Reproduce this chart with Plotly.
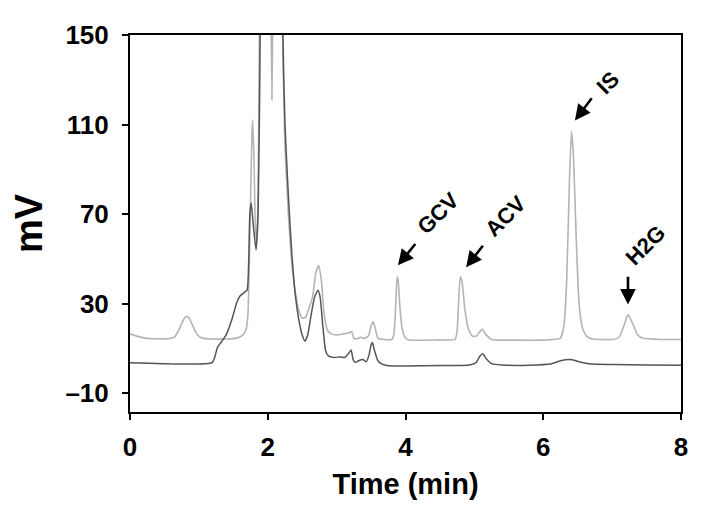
import plotly.graph_objects as go

# Light (upper) trace
light_t = [0.00, 0.10, 0.25, 0.55, 0.65, 0.72, 0.78, 0.82, 0.86, 0.92, 0.98, 1.05, 1.20, 1.40, 1.55, 1.63,
           1.68, 1.71, 1.74, 1.77, 1.78, 1.80, 1.82, 1.84, 1.86, 1.88, 1.92, 2.00, 2.03, 2.06, 2.09, 2.12,
           2.18, 2.21, 2.25, 2.30, 2.35, 2.40, 2.45, 2.50, 2.55, 2.60, 2.65, 2.70, 2.74, 2.78, 2.82, 2.87,
           2.92, 3.00, 3.10, 3.18, 3.22, 3.25, 3.30, 3.35, 3.40, 3.46, 3.50, 3.53, 3.56, 3.60, 3.70, 3.80,
           3.83, 3.85, 3.87, 3.88, 3.895, 3.92, 3.95, 3.99, 4.05, 4.50, 4.72, 4.75, 4.77, 4.795, 4.82, 4.86,
           4.91, 4.97, 5.03, 5.08, 5.12, 5.16, 5.25, 5.60, 6.00, 6.20, 6.25, 6.30, 6.34, 6.38, 6.41, 6.44,
           6.48, 6.52, 6.57, 6.63, 6.70, 7.00, 7.10, 7.17, 7.23, 7.30, 7.37, 7.45, 7.70, 8.00]
light_mv = [16.5, 15.5, 14.5, 14.3, 15.2, 19.0, 23.0, 24.3, 23.5, 19.5, 16.0, 14.6, 14.2, 14.2, 14.6, 15.8,
            18.0, 24.0, 60.0, 105.0, 112.0, 95.0, 65.0, 58.0, 80.0, 160.0, 400.0, 400.0, 220.0, 121.0, 220.0, 400.0,
            400.0, 160.0, 100.0, 70.0, 48.0, 35.0, 27.0, 23.5, 24.0, 28.0, 33.0, 44.0, 47.0, 40.0, 25.0, 18.0,
            16.5, 16.0, 16.5, 17.0, 17.5, 14.5, 14.3, 15.0, 14.5, 15.5, 20.0, 22.0, 19.0, 14.5, 14.0, 14.0,
            16.0, 24.0, 38.0, 42.0, 40.0, 28.0, 19.0, 15.0, 13.8, 13.8, 14.0, 18.0, 30.0, 42.0, 40.0, 28.0,
            19.0, 15.5, 15.5, 17.5, 18.6, 16.5, 14.0, 13.7, 13.7, 14.2, 14.5, 20.0, 40.0, 85.0, 107.0, 95.0,
            58.0, 30.0, 19.0, 15.5, 14.3, 14.0, 15.0, 20.0, 25.0, 21.0, 16.0, 14.5, 14.0, 14.0]

# Dark (lower) trace
dark_t = [0.00, 1.19, 1.23, 1.27, 1.33, 1.40, 1.48, 1.55, 1.60, 1.66, 1.70, 1.72, 1.74, 1.76, 1.79, 1.83,
          1.86, 1.89, 1.91, 2.20, 2.22, 2.25, 2.30, 2.35, 2.40, 2.45, 2.50, 2.54, 2.58, 2.63, 2.68, 2.73,
          2.76, 2.80, 2.84, 2.88, 2.95, 3.05, 3.12, 3.18, 3.21, 3.24, 3.27, 3.32, 3.38, 3.43, 3.47, 3.50,
          3.52, 3.55, 3.60, 3.66, 3.75, 4.00, 4.50, 4.90, 5.02, 5.08, 5.12, 5.17, 5.25, 5.40, 5.80, 6.10,
          6.25, 6.40, 6.55, 6.70, 7.00, 7.50, 8.00]
dark_mv = [3.6, 3.6, 6.0, 10.5, 13.0, 16.3, 23.0, 30.5, 33.5, 35.0, 36.0, 45.0, 70.0, 75.0, 65.0, 54.0,
           70.0, 150.0, 300.0, 300.0, 150.0, 110.0, 78.0, 52.0, 34.0, 23.0, 16.0, 13.3, 16.0, 25.0, 33.0, 36.0,
           33.0, 20.0, 9.0, 6.7, 6.0, 6.2, 6.0, 8.0, 9.3, 5.0, 3.8, 4.5, 5.0, 4.0, 7.0, 11.5,
           12.6, 9.0, 4.5, 3.0, 2.3, 2.2, 2.4, 2.5, 3.5, 6.5, 7.6, 5.5, 3.2, 2.6, 2.5, 3.0,
           4.5, 5.0, 3.8, 3.0, 2.8, 2.6, 2.5]

x_ticks = [0, 2, 4, 6, 8]
y_ticks = [-10, 30, 70, 110, 150]

# Peak labels: text, arrow tip (t, mV), arrow tail (t, mV), label position (t, mV)
labels = ["GCV", "ACV", "IS", "H2G"]
tip_t = [3.89, 4.88, 6.46, 7.23]
tip_mv = [47.1, 46.3, 111.8, 29.6]
tail_t = [4.16, 5.14, 6.72, 7.23]
tail_mv = [57.3, 56.5, 122.4, 42.7]
lab_t = [4.47, 5.445, 6.94, 7.478]
lab_mv = [70.4, 69.1, 129.0, 56.0]

font_fam = "Liberation Sans, Arial"

fig = go.Figure()
fig.add_trace(go.Scatter(x=light_t, y=light_mv, mode="lines",
                         line=dict(color="#b4b4b4", width=1.6, shape="spline", smoothing=0.5),
                         showlegend=False))
fig.add_trace(go.Scatter(x=dark_t, y=dark_mv, mode="lines",
                         line=dict(color="#555555", width=1.5, shape="spline", smoothing=0.5),
                         showlegend=False))

for i, lab in enumerate(labels):
    fig.add_annotation(x=tip_t[i], y=tip_mv[i], ax=tail_t[i], ay=tail_mv[i],
                       xref="x", yref="y", axref="x", ayref="y",
                       text="", showarrow=True, arrowhead=2, arrowsize=1.2,
                       arrowwidth=2.6, arrowcolor="black")
    fig.add_annotation(x=lab_t[i], y=lab_mv[i], xref="x", yref="y", text="<b>%s</b>" % lab,
                       showarrow=False, textangle=-45,
                       font=dict(family=font_fam, size=22, color="black"))

fig.update_layout(
    width=708, height=522,
    margin=dict(l=122, r=35, t=21, b=118),
    paper_bgcolor="white", plot_bgcolor="white",
    xaxis=dict(range=[0, 8], tickvals=x_ticks, ticktext=[str(v) for v in x_ticks],
               showgrid=False, zeroline=False, showline=True, linecolor="black", linewidth=2,
               mirror=True, ticks="outside", ticklen=6, tickwidth=1.5, tickcolor="black",
               tickfont=dict(family=font_fam, size=26, color="black", weight="bold"),
               ticklabelstandoff=5,
               title=dict(text="<b>Time (min)</b>", standoff=12,
                          font=dict(family=font_fam, size=29, color="black"))),
    yaxis=dict(range=[-18.4, 150], tickvals=y_ticks,
               ticktext=["\u201310" if v < 0 else str(v) for v in y_ticks],
               showgrid=False, zeroline=False, showline=True, linecolor="black", linewidth=2,
               mirror=True, ticks="outside", ticklen=6, tickwidth=1.5, tickcolor="black",
               tickfont=dict(family=font_fam, size=26, color="black", weight="bold"),
               ticklabelstandoff=8,
               title=dict(text="<b>mV</b>", standoff=18,
                          font=dict(family=font_fam, size=38, color="black"))),
)

fig.write_html("out.html")
